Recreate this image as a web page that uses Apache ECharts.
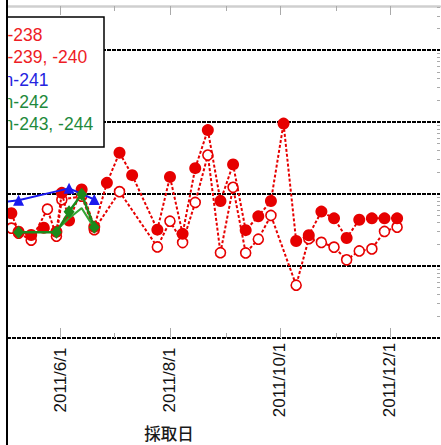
<!DOCTYPE html>
<html><head><meta charset="utf-8">
<script src="https://cdn.jsdelivr.net/npm/echarts@6/dist/echarts.min.js"></script>
<style>html,body{margin:0;padding:0;background:#fff}#c{width:441px;height:445px}</style>
</head><body><div id="c"></div>
<script>
// ---- data ----
const sampleDates = ['2011/5/5','2011/5/9','2011/5/16','2011/5/23','2011/5/25','2011/5/30','2011/6/2','2011/6/6','2011/6/13','2011/6/20','2011/6/27','2011/7/4','2011/7/11','2011/7/25','2011/8/1','2011/8/8','2011/8/15','2011/8/22','2011/8/29','2011/9/5','2011/9/12','2011/9/19','2011/9/26','2011/10/3','2011/10/10','2011/10/17','2011/10/24','2011/10/31','2011/11/7','2011/11/14','2011/11/21','2011/11/28','2011/12/5'];
const values238 = [54, 30, 27, 34, null, 30, 104, 43, 116, 35, 143, 374, 183, 32, 173, 28, 229, 774, 80, 258, 31.5, 49, 80, 953, 22.3, 26.8, 57, 46, 24.5, 44, 46, 46, 46];
const values239 = [33.6, 28.6, 22.9, null, 61.7, 26, 83.6, null, 93.5, 32, null, 108, null, 18.4, 42, 21.2, 76.4, 348, 15.3, 124, 15.2, 23.6, 50.4, null, 5.41, 24, 21.3, 18.3, 12.2, 16.2, 17.3, 30.2, 34.7];
const dates241 = ['2011/4/28','2011/5/9','2011/6/6','2011/6/20'];
const values241 = [76, 82, 120, 84];
const dates242 = ['2011/5/9','2011/5/30','2011/6/6','2011/6/13','2011/6/20'];
const values242 = [29.5, 29.5, 56.6, 99.7, 34.6];
const dates243 = ['2011/5/30','2011/6/6','2011/6/13','2011/6/20'];
const values243 = [31.5, 46, 63.7, 33.6];
const majorTickDates = ['2011/6/1','2011/8/1','2011/10/1','2011/12/1'];
const minorTickDates = ['2011/7/1','2011/9/1','2011/11/1'];
const seriesNames = ['-238', '-239, -240', 'n-241', 'n-242', 'n-243, -244'];
const xTitle = '採取日';

// ---- helpers ----
const ts = s => { const p = s.split('/').map(Number); return new Date(p[0], p[1]-1, p[2]).getTime(); };
const pair = (d, v) => d.map((x, i) => [ts(x), v[i]]);
const xMin = new Date(2011, 4, 2, 14).getTime();
const xMax = new Date(2011, 11, 28, 19).getTime();
const fmt = v => { const d = new Date(v); return d.getFullYear() + '/' + (d.getMonth()+1) + '/' + d.getDate(); };

const RED = '#e60000', BLUE = '#1a1aee', GREEN = '#1b8a1b', GREEN2 = '#35a535';
const legendColors = ['#ee1c25', '#ee1c25', '#2424e0', '#1e8a3c', '#1e8a3c'];
const legendX = [7.5, 7.5, 3.6, 3.6, 3.6];

const chart = echarts.init(document.getElementById('c'), null, {renderer: 'svg'});
const baseX = {type: 'value', min: xMin, max: xMax, splitLine: {show: false}, scale: true};
const font = "'Liberation Sans', Arial, sans-serif";

const graphics = [
  {type: 'rect', z: 100, shape: {x: 7, y: 17, width: 97, height: 130}, style: {fill: '#fff', stroke: '#000', lineWidth: 1.5}}
];
seriesNames.forEach((n, i) => {
  graphics.push({type: 'text', z: 101, x: legendX[i], y: 35 + i * 22.3,
    style: {text: n, fill: legendColors[i], font: '17.5px ' + font, textVerticalAlign: 'middle', textAlign: 'left'}});
});
graphics.push({type: 'rect', z: 102, shape: {x: 0, y: 0, width: 6.5, height: 445}, style: {fill: '#fff'}});
graphics.push({type: 'line', z: 103, shape: {x1: 7, y1: 0, x2: 7, y2: 445}, style: {stroke: '#000', lineWidth: 2}});
graphics.push({type: 'text', z: 101, x: 169, y: 432.5,
  style: {text: xTitle, fill: '#1a1a1a', font: '500 16.5px "Noto Sans CJK JP", sans-serif', textAlign: 'center', textVerticalAlign: 'middle'}});

chart.setOption({
  animation: false,
  backgroundColor: '#fff',
  grid: {left: 7, right: 1, top: 6, bottom: 107, containLabel: false},
  xAxis: [
    Object.assign({}, baseX, {position: 'bottom', axisLine: {show: false},
      axisTick: {show: true, inside: true, length: 10, customValues: majorTickDates.map(ts), lineStyle: {color: '#aaa', width: 1}},
      axisLabel: {show: true, customValues: majorTickDates.map(ts), formatter: fmt, rotate: 90, align: 'center', verticalAlign: 'middle', margin: 42, fontSize: 17, fontFamily: font, color: '#111'}}),
    Object.assign({}, baseX, {position: 'bottom', axisLine: {show: false},
      axisTick: {show: true, inside: true, length: 5, customValues: minorTickDates.map(ts), lineStyle: {color: '#aaa', width: 1}},
      axisLabel: {show: false}}),
    Object.assign({}, baseX, {position: 'top', axisLine: {show: true, lineStyle: {color: '#cfcfcf', width: 2.5}},
      axisTick: {show: true, inside: true, length: 9, customValues: majorTickDates.map(ts), lineStyle: {color: '#aaa', width: 1}},
      axisLabel: {show: false}}),
    Object.assign({}, baseX, {position: 'top', axisLine: {show: false},
      axisTick: {show: true, inside: true, length: 5, customValues: minorTickDates.map(ts), lineStyle: {color: '#aaa', width: 1}},
      axisLabel: {show: false}})
  ],
  yAxis: [
    {type: 'log', logBase: 10, min: 1, max: 41000, position: 'left',
      axisLine: {show: false}, axisTick: {show: false}, axisLabel: {show: false},
      splitLine: {show: true, showMaxLine: false, showMinLine: true, lineStyle: {color: '#000', width: 2, type: [4, 1]}}},
    {type: 'log', logBase: 10, min: 1, max: 41000, position: 'right',
      axisLine: {show: false}, axisTick: {show: false, inside: true}, axisLabel: {show: false}, splitLine: {show: false},
      minorTick: {show: true, splitNumber: 9, length: 3, lineStyle: {color: '#aaa'}}}
  ],
  series: [
    {name: seriesNames[1], type: 'line', data: pair(sampleDates, values239), connectNulls: true, z: 2,
      symbol: 'circle', symbolSize: 10, itemStyle: {color: '#fff', borderColor: RED, borderWidth: 1.6},
      lineStyle: {color: RED, width: 2, type: [3, 2]}},
    {name: seriesNames[0], type: 'line', data: pair(sampleDates, values238), connectNulls: true, z: 3,
      symbol: 'circle', symbolSize: 12, itemStyle: {color: RED},
      lineStyle: {color: RED, width: 2, type: [3, 2]}},
    {name: seriesNames[2], type: 'line', data: pair(dates241, values241), z: 4,
      symbol: 'triangle', symbolSize: 11, itemStyle: {color: BLUE}, lineStyle: {color: BLUE, width: 2}},
    {name: seriesNames[4], type: 'line', data: pair(dates243, values243), z: 4,
      symbol: 'none', lineStyle: {color: GREEN2, width: 2}},
    {name: seriesNames[3], type: 'line', data: pair(dates242, values242), z: 5,
      symbol: 'diamond', symbolSize: [11, 13], itemStyle: {color: GREEN}, lineStyle: {color: GREEN, width: 2.5}}
  ],
  graphic: graphics
});
</script></body></html>
